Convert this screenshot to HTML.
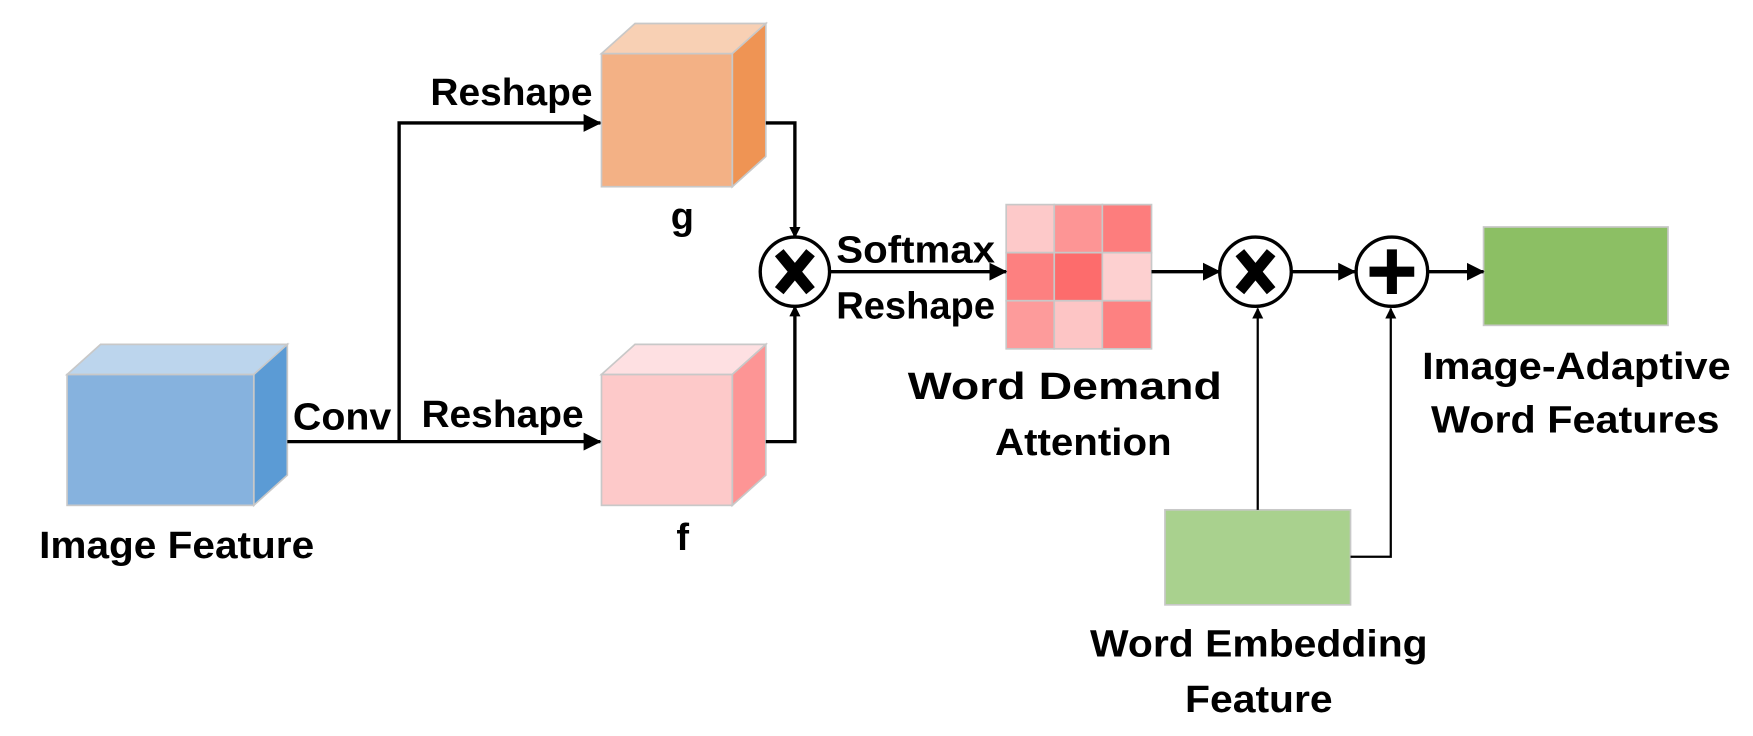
<!DOCTYPE html>
<html><head><meta charset="utf-8"><style>html,body{margin:0;padding:0;background:#fff}svg{display:block}</style></head>
<body>
<svg width="1753" height="736" viewBox="0 0 1568 658.3" preserveAspectRatio="none" xmlns="http://www.w3.org/2000/svg">
<defs>
<marker id="ah" markerWidth="10" markerHeight="10" refX="9" refY="5" orient="auto" markerUnits="userSpaceOnUse">
<path d="M0,0 L10,5 L0,10 z" fill="#000"/>
</marker>
<marker id="ah2" markerWidth="16" markerHeight="16" refX="15" refY="8" orient="auto" markerUnits="userSpaceOnUse">
<path d="M0,0 L16,8 L0,16 z" fill="#000"/>
</marker>
</defs>
<g stroke="#c8c8c8" stroke-width="1.5">
<polygon points="60,335 90,308 257,308 227,335" fill="#bcd5ed"/>
<polygon points="227,335 257,308 257,425 227,452" fill="#5b9bd5"/>
<rect x="60" y="335" width="167" height="117" fill="#86b2de"/>
<polygon points="538,48 568,21 685,21 655,48" fill="#f8d0b4"/>
<polygon points="655,48 685,21 685,140 655,167" fill="#ef9454"/>
<rect x="538" y="48" width="117" height="119" fill="#f3b185"/>
<polygon points="538,335 568,308 685,308 655,335" fill="#fee0e2"/>
<polygon points="655,335 685,308 685,425 655,452" fill="#fd9595"/>
<rect x="538" y="335" width="117" height="117" fill="#fdc9c9"/>
<rect x="900" y="183" width="43" height="43" fill="#fdc9c9"/>
<rect x="943" y="183" width="43" height="43" fill="#fd9595"/>
<rect x="986" y="183" width="44" height="43" fill="#fd7d7d"/>
<rect x="900" y="226" width="43" height="43" fill="#fd8080"/>
<rect x="943" y="226" width="43" height="43" fill="#fd6c6c"/>
<rect x="986" y="226" width="44" height="43" fill="#fdd0d0"/>
<rect x="900" y="269" width="43" height="43" fill="#fd9b9b"/>
<rect x="943" y="269" width="43" height="43" fill="#fdc5c5"/>
<rect x="986" y="269" width="44" height="43" fill="#fd8181"/>
<rect x="1327" y="203" width="165" height="88" fill="#8cbf64"/>
<rect x="1042" y="456" width="166" height="85" fill="#a9d18e"/>
</g>
<g stroke="#000" stroke-width="3" fill="none">
<line x1="257" y1="395" x2="537" y2="395" marker-end="url(#ah2)"/>
<polyline points="357,395 357,110 537,110" marker-end="url(#ah2)"/>
<polyline points="685,110 711,110 711,212" marker-end="url(#ah)"/>
<polyline points="685,395 711,395 711,274" marker-end="url(#ah)"/>
<line x1="742" y1="243" x2="900" y2="243" marker-end="url(#ah2)"/>
<line x1="1030" y1="243" x2="1091" y2="243" marker-end="url(#ah2)"/>
<line x1="1155" y1="243" x2="1212" y2="243" marker-end="url(#ah2)"/>
<line x1="1278" y1="243" x2="1327" y2="243" marker-end="url(#ah2)"/>
<line x1="1125" y1="456" x2="1125" y2="276" stroke-width="2" marker-end="url(#ah)"/>
<polyline points="1208,498 1244,498 1244,276" stroke-width="2" marker-end="url(#ah)"/>
</g>
<g stroke="#000" stroke-width="3">
<ellipse cx="711" cy="243" rx="31" ry="31" fill="#fff"/>
<path d="M697,226 L725,260 M725,226 L697,260" stroke-width="10"/>
<ellipse cx="1123" cy="243" rx="32" ry="31" fill="#fff"/>
<path d="M1109,226 L1137,260 M1137,226 L1109,260" stroke-width="10"/>
<ellipse cx="1245" cy="243" rx="32" ry="31" fill="#fff"/>
<path d="M1245,223 L1245,263 M1225,243 L1265,243" stroke-width="9"/>
</g>
<g font-family="Liberation Sans, sans-serif" font-weight="bold" font-size="34" fill="#000">
<text x="385" y="94" textLength="145" lengthAdjust="spacingAndGlyphs">Reshape</text>
<text x="262" y="384" textLength="88" lengthAdjust="spacingAndGlyphs">Conv</text>
<text x="377" y="382" textLength="145" lengthAdjust="spacingAndGlyphs">Reshape</text>
<text x="600" y="205">g</text>
<text x="605" y="492">f</text>
<text x="748" y="235" textLength="142" lengthAdjust="spacingAndGlyphs">Softmax</text>
<text x="748" y="285" textLength="142" lengthAdjust="spacingAndGlyphs">Reshape</text>
<text x="812" y="357" textLength="281" lengthAdjust="spacingAndGlyphs">Word Demand</text>
<text x="890" y="407" textLength="158" lengthAdjust="spacingAndGlyphs">Attention</text>
<text x="1272" y="339" textLength="276" lengthAdjust="spacingAndGlyphs">Image-Adaptive</text>
<text x="1280" y="387" textLength="258" lengthAdjust="spacingAndGlyphs">Word Features</text>
<text x="975" y="587" textLength="302" lengthAdjust="spacingAndGlyphs">Word Embedding</text>
<text x="1060" y="637" textLength="132" lengthAdjust="spacingAndGlyphs">Feature</text>
<text x="35" y="499" textLength="246" lengthAdjust="spacingAndGlyphs">Image Feature</text>
</g>
</svg>
</body></html>
